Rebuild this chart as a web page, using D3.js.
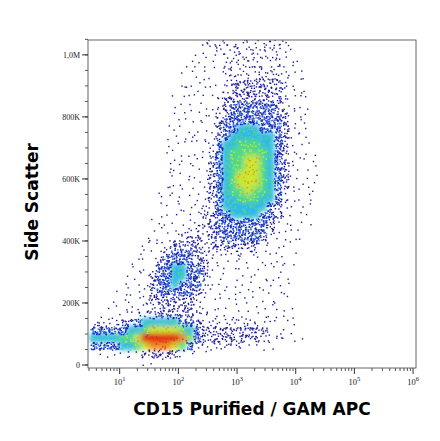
<!DOCTYPE html>
<html><head><meta charset="utf-8">
<script src="https://cdn.jsdelivr.net/npm/d3@7"></script>
<style>body{margin:0;background:#fff;font-family:"DejaVu Sans",sans-serif}</style>
</head><body><div id="container"></div>
<script>
var W = 440, H = 441,
    margin = {top: 40, right: 24, bottom: 73, left: 88},
    logMin = 0.46, logMax = 6.05, yMaxVal = 1048000;

// density grid: columns step 0.125 decade from 10^0.5, rows step 25K from 0
// rows listed from top (row 41) to bottom (row 0), runs "from-to:level"
var colStart = 0.5, colStep = 0.125, rowStep = 25000;
var densityRows = [
 "15-26:2",
 "14-16:1 17-25:2 26-27:1",
 "13-16:1 18-25:2 26-28:1",
 "13-16:1 18-25:2 26-28:1",
 "12-16:1 18-26:2 27-28:1",
 "12-16:1 18:2 19-25:3 26:2 27-28:1",
 "12-16:1 18:2 19-25:3 26:2 27-29:1",
 "11-16:1 17:2 18-25:3 26:2 27-29:1",
 "11-16:1 17:2 18:3 19-24:4 25:3 26:2 27-29:1",
 "11-16:1 17:2 18:3 19-24:4 25-26:3 27-29:1",
 "11-16:1 17:3 18-25:4 26:3 27-29:1",
 "10-16:1 17:3 18-19:4 20-22:5 23-25:4 26:3 27-29:1",
 "10-16:1 17:3 18:4 19-24:5 25:4 26:3 27-29:1",
 "10-15:1 16:2 17:4 18-19:5 20-22:6 23-24:5 25:4 26:3 27-29:1",
 "10-15:1 16:2 17:4 18:5 19-23:6 24:5 25:4 26:3 27-30:1",
 "10-15:1 16:3 17:4 18:5 19-20:6 21-22:7 23:6 24:5 25:4 26:3 27-30:1",
 "10-15:1 16:3 17:4 18:5 19-20:6 21-22:7 23:6 24:5 25:4 26:3 27-30:1",
 "10-15:1 16:3 17:4 18:5 19:6 20-22:7 23:6 24:5 25:4 26:3 27-30:1",
 "10-15:1 16:3 17:4 18:5 19:6 20-22:7 23:6 24:5 25:4 26:3 27-30:1",
 "9-15:1 16:3 17:4 18:5 19-20:6 21:7 22-23:6 24:5 25:4 26:2 27-30:1",
 "9-15:1 16:3 17:4 18-19:5 20-22:6 23-24:5 25:4 26:2 27-29:1",
 "9-14:1 15-16:2 17:4 18-23:5 24:4 25:3 26-29:1",
 "9-14:1 15-16:3 17-18:4 19-22:5 23-24:4 25:3 26-29:1",
 "8-13:1 14-15:2 16:3 17-23:4 24:3 25-29:1",
 "8-12:1 13-15:2 16:3 17-23:4 24:3 25-28:1",
 "7-10:1 11-12:2 13-14:3 15:2 16-17:3 18-22:4 23:3 24-28:1",
 "6-9:1 10:2 11-14:3 15:2 16-22:3 23-27:1",
 "6-8:1 9:2 10:3 11-13:4 14:3 15-22:2 23-27:1",
 "5-8:1 9:3 10-13:4 14:3 15:3 16-27:1",
 "5-7:1 8:2 9-10:4 11-12:5 13-14:4 15:3 16-26:1",
 "4-7:1 8:3 9-10:4 11-12:5 13-14:4 15:3 16-26:1",
 "4-7:1 8:3 9-10:4 11:5 12-14:4 15:2 16-26:1",
 "3-7:1 8:3 9-13:4 14:3 15:2 16-26:1",
 "3-6:1 7:2 8-13:3 14:2 15-26:1",
 "2-6:1 7-8:2 9-13:3 14:2 15-27:1",
 "1-5:1 6-7:2 8-13:3 14-15:2 16-27:1",
 "0-3:2 4-5:3 6:4 7-11:5 12-13:4 14:3 15-22:2 23-27:1",
 "0-4:4 5-6:5 7:6 8-11:7 12:6 13:5 14:4 15-23:3 24-27:1",
 "0-3:5 4-5:6 6:7 7-11:9 12:8 13:6 14:4 15-22:3 23-25:2 26-28:1",
 "0-3:4 4-5:5 6:6 7:7 8-10:8 11:7 12:6 13:4 14-20:2 21-24:1",
 "1-4:1 5-6:2 7-11:3 12:2 13-15:1",
 "7-10:1"
];
var levelColors = ["#fff", "#1c1c9c", "#1a2ab8", "#1c3cd0", "#2050e0", "#30b8e8", "#50d890", "#c8e830", "#f09028", "#e02818"];
var yTicks = [0, 200000, 400000, 600000, 800000, 1000000];
var yTickLabels = ["0", "200K", "400K", "600K", "800K", "1,0M"];
var xDecades = [1, 2, 3, 4, 5, 6];

var cells = [];
densityRows.forEach(function(str, i) {
  var row = densityRows.length - 1 - i;
  str.split(" ").forEach(function(run) {
    var p = run.split(":"), r = p[0].split("-"), a = +r[0], b = r.length > 1 ? +r[1] : a;
    for (var c = a; c <= b; c++) cells.push({c: c, r: row, lv: +p[1]});
  });
});

var svg = d3.select("#container").append("svg").attr("width", W).attr("height", H);
var x = d3.scaleLinear().domain([logMin, logMax]).range([margin.left, W - margin.right]);
var y = d3.scaleLinear().domain([0, yMaxVal]).range([H - margin.bottom - 3, margin.top]);
var x0 = margin.left, x1 = W - margin.right, y0 = margin.top, y1 = H - margin.bottom;

svg.append("defs").append("filter").attr("id", "soft")
  .attr("x", "-20%").attr("y", "-20%").attr("width", "140%").attr("height", "140%")
  .append("feGaussianBlur").attr("stdDeviation", 2.6);
svg.append("clipPath").attr("id", "clip").append("rect")
  .attr("x", x0).attr("y", y0).attr("width", x1 - x0).attr("height", y1 - y0);

var plot = svg.append("g").attr("clip-path", "url(#clip)");
// dense cells as soft blocks
plot.append("g").attr("filter", "url(#soft)").selectAll("rect")
  .data(cells.filter(function(d) { return d.lv >= 5; }).sort(function(a, b) { return a.lv - b.lv; }))
  .enter().append("rect")
  .attr("x", function(d) { return x(colStart + d.c * colStep) - 0.5; })
  .attr("y", function(d) { return y((d.r + 1) * rowStep) - 0.5; })
  .attr("width", function(d) { return x(colStart + (d.c + 1) * colStep) - x(colStart + d.c * colStep) + 1; })
  .attr("height", function(d) { return y(d.r * rowStep) - y((d.r + 1) * rowStep) + 1; })
  .attr("fill", function(d) { return levelColors[d.lv]; });

// event dots placed at hashed fixed offsets inside each cell
function hash(a, b) { var s = Math.sin(a * 127.1 + b * 311.7) * 43758.5453; return s - Math.floor(s); }
var nDots = [0, 1, 3, 9, 20, 6, 4, 3, 2, 2];
var dots = [];
cells.forEach(function(d) {
  var n = nDots[d.lv];
  for (var k = 0; k < n; k++) {
    var key = d.c * 97 + d.r * 13 + k * 7.3;
    dots.push({lx: colStart + (d.c + hash(key, 1.7)) * colStep, v: (d.r + hash(key, 5.3)) * rowStep, lv: d.lv, k: k});
  }
});
plot.append("g").selectAll("rect").data(dots).enter().append("rect")
  .attr("x", function(d) { return x(d.lx); })
  .attr("y", function(d) { return y(d.v); })
  .attr("width", 1.4).attr("height", 1.4)
  .attr("fill", function(d) {
    if (d.lv <= 3) return "#1a1a9a";
    if (d.lv == 4) return d.k % 3 == 0 ? "#2a70e8" : "#1a24b0";
    return levelColors[Math.min(9, d.lv + 1)];
  });

// frame
svg.append("rect").attr("x", x0).attr("y", y0).attr("width", x1 - x0).attr("height", y1 - y0)
  .attr("fill", "none").attr("stroke", "#666").attr("stroke-width", 1);

// y axis
var yMinor = d3.range(0, 1050001, 50000);
svg.append("g").selectAll("line").data(yMinor).enter().append("line")
  .attr("x1", x0 - 3).attr("x2", x0).attr("y1", function(d) { return y(d); }).attr("y2", function(d) { return y(d); })
  .attr("stroke", "#555");
svg.append("g").selectAll("line").data(yTicks).enter().append("line")
  .attr("x1", x0 - 6).attr("x2", x0).attr("y1", function(d) { return y(d); }).attr("y2", function(d) { return y(d); })
  .attr("stroke", "#333");
svg.append("g").selectAll("text").data(yTicks).enter().append("text")
  .attr("x", x0 - 8).attr("y", function(d) { return y(d) + 3; })
  .attr("text-anchor", "end").attr("font-size", 8).attr("font-family", "Liberation Serif, serif").attr("fill", "#222")
  .text(function(d, i) { return yTickLabels[i]; });

// x axis (log)
var xMinor = [];
for (var dcd = 0; dcd <= 6; dcd++) for (var m = 2; m <= 9; m++) {
  var lv = dcd + Math.log10(m);
  if (lv > logMin && lv < logMax) xMinor.push(lv);
}
svg.append("g").selectAll("line").data(xMinor).enter().append("line")
  .attr("x1", function(d) { return x(d); }).attr("x2", function(d) { return x(d); })
  .attr("y1", y1).attr("y2", y1 + 3).attr("stroke", "#555");
svg.append("g").selectAll("line").data(xDecades).enter().append("line")
  .attr("x1", function(d) { return x(d); }).attr("x2", function(d) { return x(d); })
  .attr("y1", y1).attr("y2", y1 + 6).attr("stroke", "#333");
var xl = svg.append("g").selectAll("text").data(xDecades).enter().append("text")
  .attr("x", function(d) { return x(d); }).attr("y", y1 + 17)
  .attr("text-anchor", "middle").attr("font-size", 8.5).attr("font-family", "Liberation Serif, serif").attr("fill", "#222");
xl.append("tspan").text("10");
xl.append("tspan").attr("dy", -4).attr("font-size", 6.5).text(function(d) { return d; });

// titles
svg.append("text").attr("x", (x0 + x1) / 2).attr("y", 415).attr("text-anchor", "middle")
  .attr("font-size", 17).attr("font-weight", "bold").attr("font-family", "DejaVu Sans, sans-serif")
  .text("CD15 Purified / GAM APC");
svg.append("text").attr("transform", "translate(38," + ((y0 + y1) / 2 - 2) + ") rotate(-90)")
  .attr("text-anchor", "middle").attr("font-size", 17).attr("font-weight", "bold").attr("font-family", "DejaVu Sans, sans-serif")
  .text("Side Scatter");
</script>
</body></html>
